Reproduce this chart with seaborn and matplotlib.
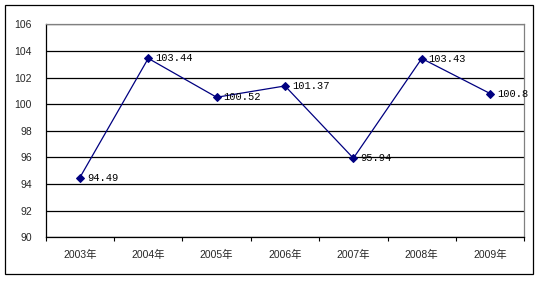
import matplotlib
matplotlib.use("Agg")
import matplotlib.pyplot as plt
import seaborn as sns
import pandas as pd
from matplotlib.patches import Rectangle
from matplotlib.ticker import FixedLocator, NullFormatter

years = ["2003年", "2004年", "2005年", "2006年", "2007年", "2008年", "2009年"]
values = [94.49, 103.44, 100.52, 101.37, 95.94, 103.43, 100.8]
labels = ["94.49", "103.44", "100.52", "101.37", "95.94", "103.43", "100.8"]
yticks = [90, 92, 94, 96, 98, 100, 102, 104, 106]

sns.set_style("white")
plt.rcParams['font.family'] = ['Liberation Sans', 'Noto Sans CJK SC']

W, H = 551, 289
fig = plt.figure(figsize=(W / 100, H / 100), dpi=100)
ax = fig.add_axes([45.7 / W, 1 - 237.3 / H, (524.3 - 45.7) / W, (237.3 - 24.3) / H])

df = pd.DataFrame({"year": years, "value": values})
sns.lineplot(data=df, x="year", y="value", ax=ax, sort=False, color="#000080",
             marker="D", markersize=4.5, markeredgecolor="#000080",
             markerfacecolor="#000080", linewidth=0.9)

for i, (v, lab) in enumerate(zip(values, labels)):
    ax.annotate(lab, (i, v), xytext=(5, 0), textcoords="offset points",
                ha="left", va="center", fontsize=7.5,
                family=['Liberation Mono', 'DejaVu Sans Mono'], color="#000000")

ax.set_ylim(90, 106)
ax.set_yticks(yticks)
ax.set_yticklabels([str(t) for t in yticks], fontsize=7.5)
ax.set_xlim(-0.5, len(years) - 0.5)
ax.xaxis.set_major_locator(FixedLocator([i - 0.5 for i in range(len(years) + 1)]))
ax.xaxis.set_major_formatter(NullFormatter())
ax.xaxis.set_minor_locator(FixedLocator(list(range(len(years)))))
ax.set_xticklabels(years, minor=True, fontsize=7.5)
ax.tick_params(axis="x", which="major", direction="out", length=3, width=0.8,
               color="black", bottom=True)
ax.tick_params(axis="x", which="minor", length=0, pad=9)
ax.tick_params(axis="y", length=0, pad=10)
ax.set_xlabel("")
ax.set_ylabel("")

ax.grid(axis="y", color="black", linewidth=0.9)
ax.set_axisbelow(True)
for s in ["left", "bottom"]:
    ax.spines[s].set_color("black")
    ax.spines[s].set_linewidth(0.9)
for s in ["top", "right"]:
    ax.spines[s].set_color("#808080")
    ax.spines[s].set_linewidth(0.9)
    ax.spines[s].set_visible(True)

fig.patches.append(Rectangle((5 / W, 1 - 274 / H), 528 / W, 269 / H,
                             transform=fig.transFigure, fill=False,
                             edgecolor="black", linewidth=0.9))

fig.savefig("out.png", dpi=100)
